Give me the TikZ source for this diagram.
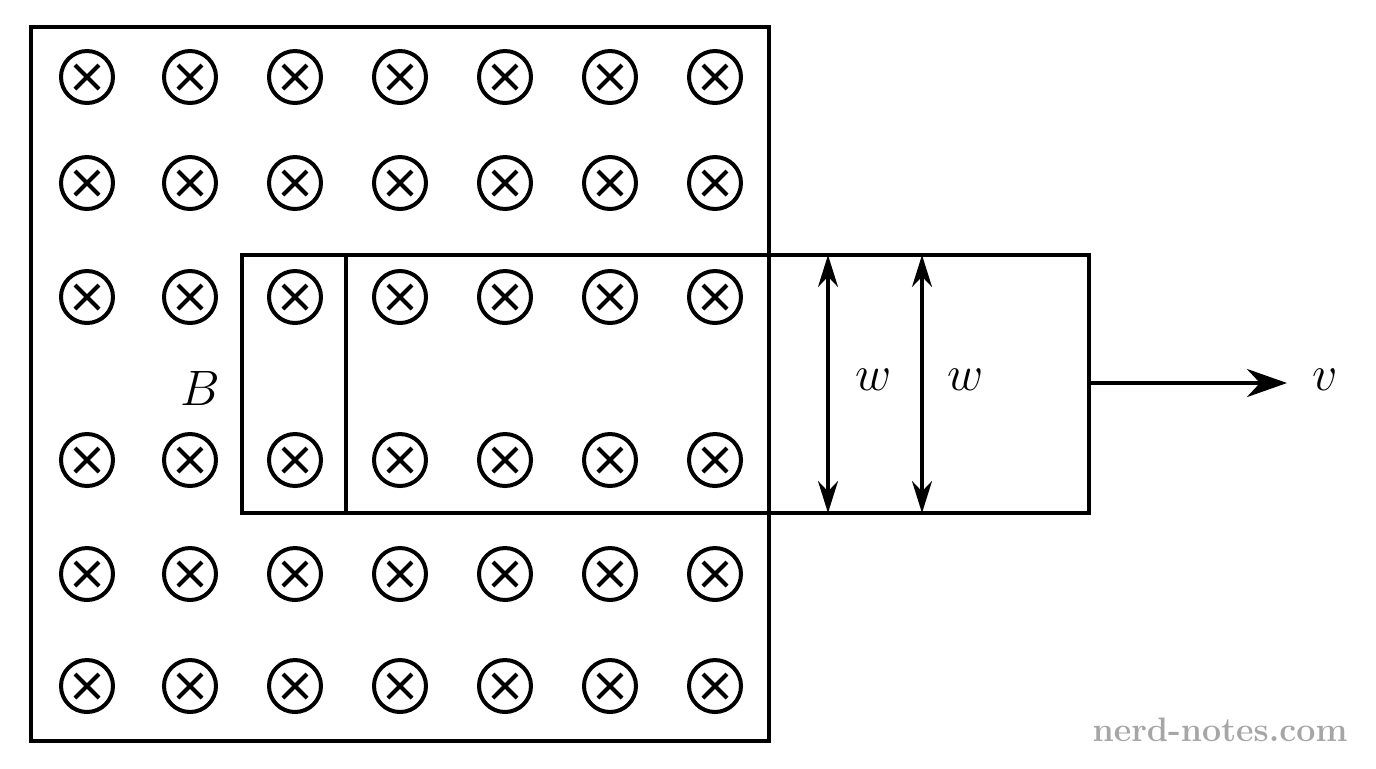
\documentclass[tikz,border=0pt]{standalone}
\usetikzlibrary{arrows.meta}
\begin{document}
\begin{tikzpicture}[x=0.5pt,y=-0.5pt,
  ln/.style={line width=2.3pt},
  bc/.style={circle,draw,line width=2pt,minimum size=26pt,inner sep=0pt},
  lab/.style={font=\fontsize{46}{50}\selectfont}]
\useasboundingbox (0,0) rectangle (1376,768);
\draw[ln] (31,27) rectangle (769,741);
\foreach \x in {87,190,295,400,505,610,715}{
  \foreach \y in {77,183,297,460,574,686}{
    \node[bc] (c\x-\y) at (\x,\y) {};
    \draw[line width=2pt] (\x-12,\y-12) -- (\x+12,\y+12) (\x-12,\y+12) -- (\x+12,\y-12);
  }}
\draw[ln] (242,255) rectangle (1089,513);
\draw[ln] (346,255) -- (346,513);
\coordinate (a1) at (828,255); \coordinate (a2) at (828,513);
\coordinate (b1) at (922,255); \coordinate (b2) at (922,513);
\draw[line width=1.6pt,{Stealth[length=16pt,width=10pt]}-{Stealth[length=16pt,width=10pt]}] (a1) -- (a2);
\draw[line width=1.6pt,{Stealth[length=16pt,width=10pt]}-{Stealth[length=16pt,width=10pt]}] (b1) -- (b2);
\node[lab] (w1) at (874,380) {$w$};
\node[lab] (w2) at (966,380) {$w$};
\node[lab] (B) at (200,388) {$B$};
\coordinate (v0) at (1089,383);
\node[lab] (v) at (1325,380) {$v$};
\draw[line width=2.3pt,-{Stealth[length=20pt,width=14pt]}] (v0) -- (1287,383);
\node[text=black!35,font=\fontsize{17}{20}\selectfont\bfseries] (wm) at (1220,730) {nerd-notes.com};
\end{tikzpicture}
\end{document}
